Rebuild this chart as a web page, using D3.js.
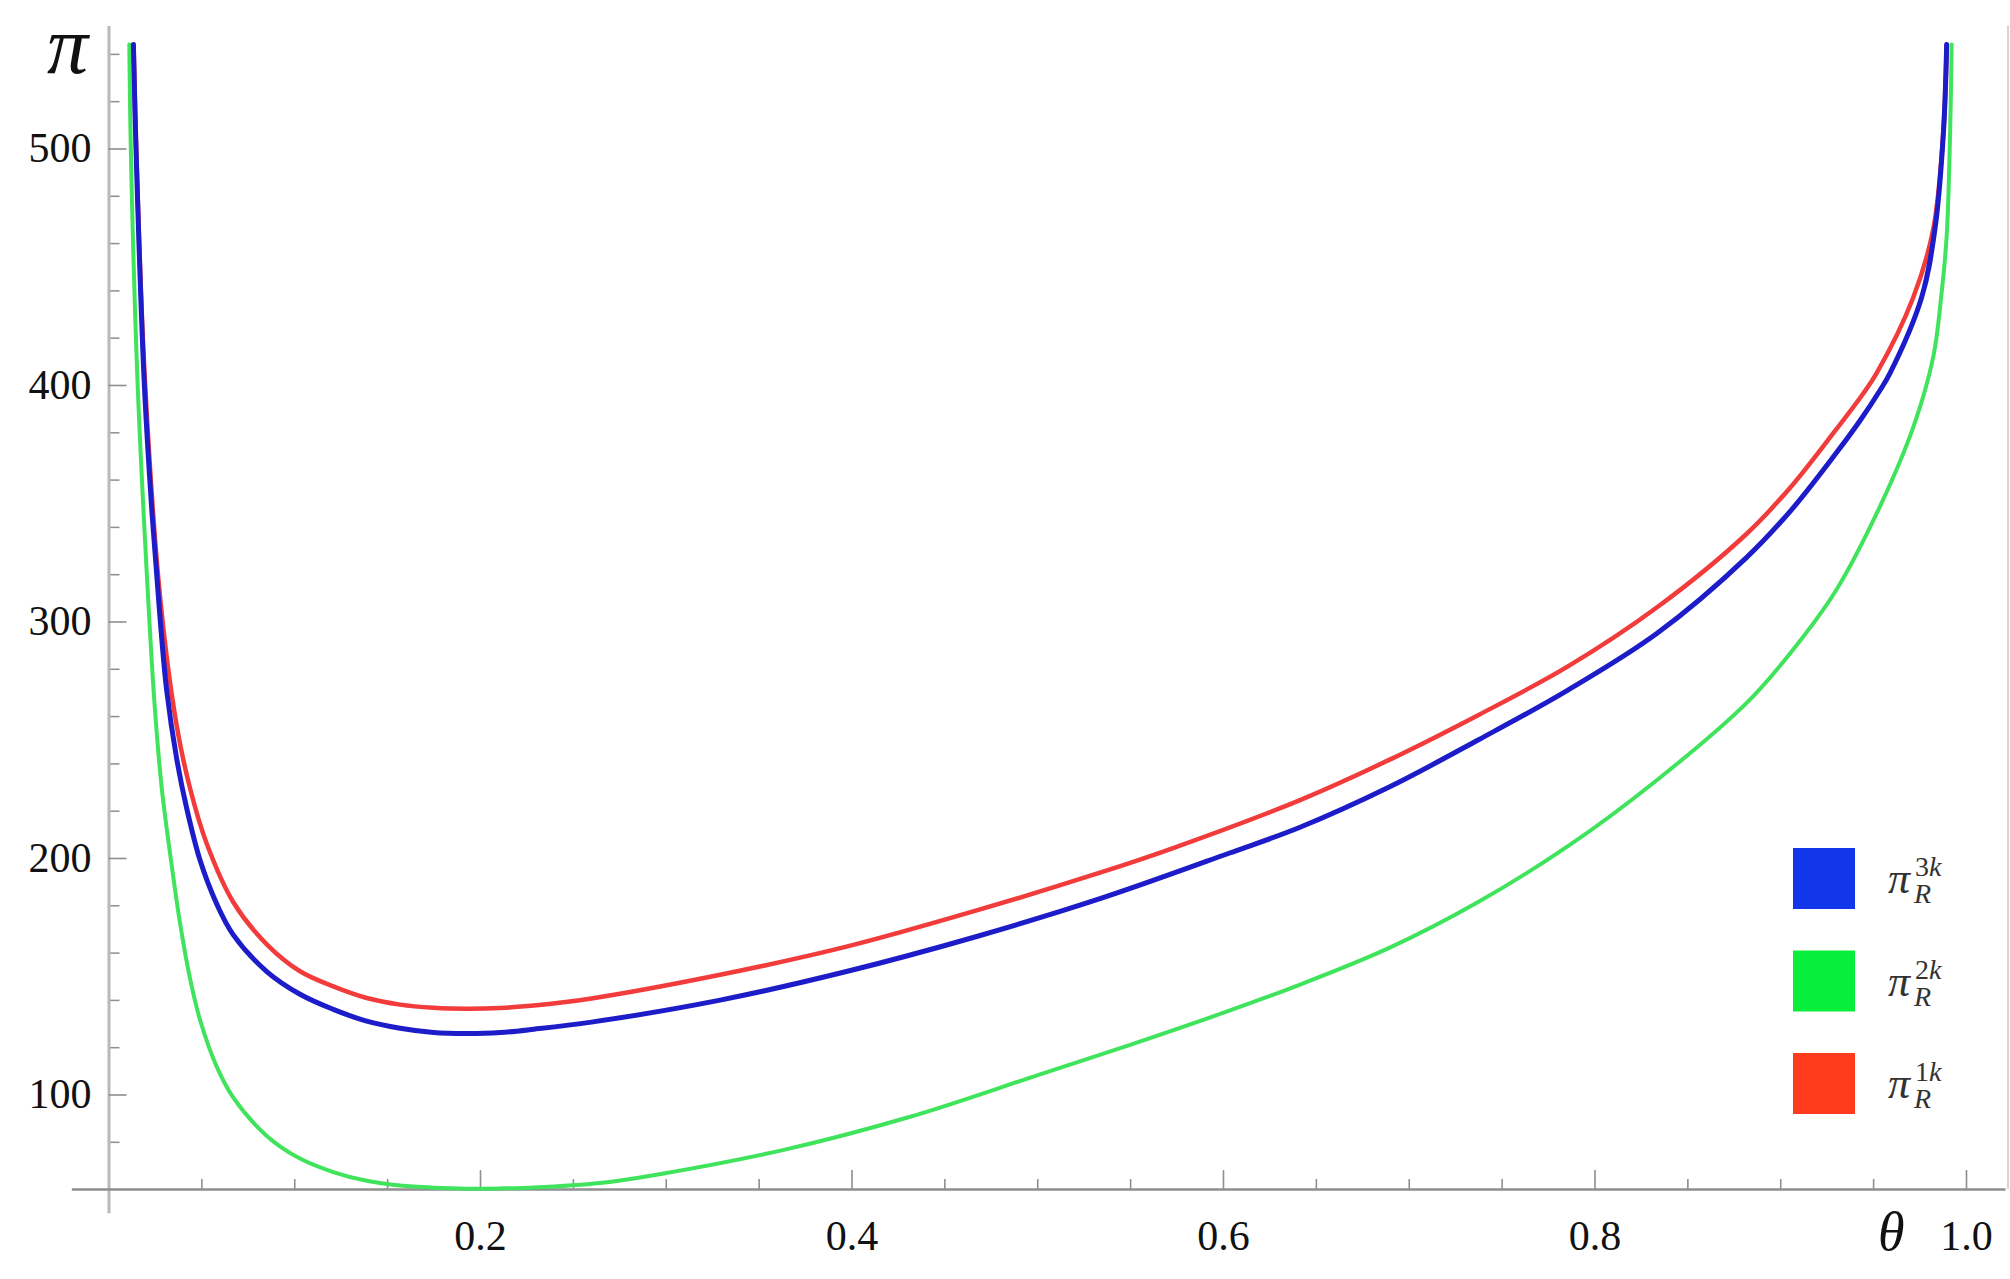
<!DOCTYPE html>
<html>
<head>
<meta charset="utf-8">
<script src="https://cdn.jsdelivr.net/npm/d3@7"></script>
<style>
  html, body { margin: 0; padding: 0; background: #fff; }
  svg { display: block; font-family: "Liberation Serif", "DejaVu Serif", serif; }
</style>
</head>
<body>
<svg id="chart" width="2010" height="1279"></svg>
<script>
'use strict'

// pi_R^3k (blue) -- theta / profit pairs
const theta3k = [0.0134, 0.0148, 0.0193, 0.0235, 0.0277, 0.0313, 0.0367, 0.0421, 0.0493, 0.0583, 0.0672, 0.0852, 0.1031, 0.121, 0.139, 0.157, 0.175, 0.193, 0.211, 0.229, 0.26, 0.3286, 0.3973, 0.466, 0.5346, 0.6032, 0.6415, 0.6895, 0.7376, 0.7857, 0.8337, 0.8818, 0.9058, 0.9299, 0.943, 0.9539, 0.9591, 0.9761, 0.9833, 0.9878, 0.9896]
const pi3k    = [544, 500, 400, 345, 302, 271, 242, 221, 199, 180.5, 167.5, 152, 142.4, 136, 131, 128, 126.2, 125.8, 126.2, 127.6, 130.6, 139.8, 152, 166.5, 183, 202, 213, 230, 250, 271, 295, 327, 347, 371, 385, 398, 405, 437, 466, 506, 544]

// pi_R^2k (green)
const theta2k = [0.0112, 0.012, 0.0157, 0.0214, 0.0248, 0.0286, 0.034, 0.0385, 0.0439, 0.0493, 0.0583, 0.0672, 0.0852, 0.1031, 0.121, 0.139, 0.157, 0.175, 0.193, 0.211, 0.229, 0.2646, 0.2943, 0.363, 0.4316, 0.5003, 0.55, 0.6, 0.6415, 0.6895, 0.7376, 0.7857, 0.8337, 0.8818, 0.9058, 0.9299, 0.9539, 0.972, 0.9824, 0.9866, 0.9896, 0.9914, 0.9923]
const pi2k    = [544, 500, 400, 309, 265, 230, 197, 172.5, 149, 131.5, 111.7, 98.7, 82.5, 72.9, 67.2, 63.5, 61.5, 60.6, 60.2, 60.3, 60.7, 62.6, 66, 76.5, 90.6, 108.2, 121, 134.5, 146.5, 162, 181.5, 205, 233, 265.5, 287, 313, 349, 383, 412, 437, 463, 505, 544]

// pi_R^1k (red)
const theta1k = [0.0135, 0.0149, 0.0194, 0.0278, 0.0367, 0.0439, 0.0529, 0.0672, 0.0852, 0.1031, 0.121, 0.139, 0.157, 0.175, 0.193, 0.211, 0.229, 0.26, 0.3286, 0.3973, 0.466, 0.5346, 0.5724, 0.6415, 0.6895, 0.7376, 0.7857, 0.8337, 0.8818, 0.9058, 0.9299, 0.9443, 0.9519, 0.9716, 0.9824, 0.9878, 0.9896]
const pi1k    = [544, 501, 405, 310, 256, 229.5, 206, 181.3, 163.5, 152.1, 145.7, 140.8, 138, 136.7, 136.3, 136.6, 137.6, 140.6, 150.5, 162.5, 177.5, 194, 204, 224.5, 241.5, 260.5, 281, 306, 337, 357, 381, 396, 405, 437, 466, 507, 544]

const yTickLabels = [100, 200, 300, 400, 500]
const xTickLabels = [0.2, 0.4, 0.6, 0.8, 1.0]
const legendKeys = ['3k', '2k', '1k']

const colors = {
	'3k': {line: '#1c1cc8', box: '#1236ea'},
	'2k': {line: '#3fe35c', box: '#08ee3a'},
	'1k': {line: '#f23b3b', box: '#ff3b1e'}
}
const widths = {'3k': 5, '2k': 4, '1k': 4.5}

const svg = d3.select('#chart')

// scales: axis origin at theta = 0, pi = 60
const x = d3.scaleLinear().domain([-0.02, 1.021]).range([71.35, 2005])
const y = d3.scaleLinear().domain([50, 552]).range([1212.75, 25.5])

const axisGrey = '#8e8e8e'

// y axis, minor ticks every 20 (no labels)
const yMinor = d3.range(80, 545, 20).filter(v => v % 100 !== 0)
svg.append('g')
	.attr('transform', 'translate(' + x(0) + ',0)')
	.call(d3.axisLeft(y).tickValues(yMinor).tickSizeInner(-11).tickSizeOuter(0).tickFormat(''))
	.call(g => g.select('.domain').remove())
	.call(g => g.selectAll('line').attr('stroke', axisGrey).attr('stroke-width', 1.5))

const yAxis = svg.append('g')
	.attr('transform', 'translate(' + x(0) + ',0)')
	.call(d3.axisLeft(y).tickValues(yTickLabels).tickSizeInner(-18).tickSizeOuter(0).tickPadding(17))
yAxis.select('.domain').attr('stroke', '#b9b9b9').attr('stroke-width', 3)
yAxis.selectAll('line').attr('stroke', axisGrey).attr('stroke-width', 1.6)
yAxis.selectAll('text')
	.attr('fill', '#111')
	.style('font-family', '"Liberation Serif", serif')
	.style('font-size', '42px')

// x axis, minor ticks every 0.05
const xMinor = d3.range(1, 20).map(i => i * 0.05).filter(v => Math.abs(v * 5 - Math.round(v * 5)) > 1e-6)
svg.append('g')
	.attr('transform', 'translate(0,' + y(60) + ')')
	.call(d3.axisBottom(x).tickValues(xMinor).tickSizeInner(-10).tickSizeOuter(0).tickFormat(''))
	.call(g => g.select('.domain').remove())
	.call(g => g.selectAll('line').attr('stroke', axisGrey).attr('stroke-width', 1.6))

const xAxis = svg.append('g')
	.attr('transform', 'translate(0,' + y(60) + ')')
	.call(d3.axisBottom(x).tickValues(xTickLabels).tickSizeInner(-19).tickSizeOuter(0).tickPadding(31).tickFormat(d3.format('.1f')))
xAxis.select('.domain').attr('stroke', axisGrey).attr('stroke-width', 2.5)
xAxis.selectAll('line').attr('stroke', axisGrey).attr('stroke-width', 1.6)
xAxis.selectAll('text')
	.attr('fill', '#111')
	.style('font-family', '"Liberation Serif", serif')
	.style('font-size', '42px')

// faint frame edge on the right
svg.append('line')
	.attr('x1', 2008).attr('x2', 2008)
	.attr('y1', y(552)).attr('y2', y(60))
	.attr('stroke', '#d4d4d4').attr('stroke-width', 2)

// axis labels
svg.append('text')
	.attr('x', 47).attr('y', 73)
	.style('font-style', 'italic').style('font-size', '82px')
	.attr('fill', '#111')
	.text('π')
svg.append('text')
	.attr('x', 1878).attr('y', 1250)
	.style('font-style', 'italic').style('font-size', '54px')
	.attr('fill', '#111')
	.text('θ')

// curves
const series = [
	{key: '2k', theta: theta2k, vals: pi2k},
	{key: '1k', theta: theta1k, vals: pi1k},
	{key: '3k', theta: theta3k, vals: pi3k}
]
const line = d3.line()
	.x(d => x(d[0]))
	.y(d => y(d[1]))
	.curve(d3.curveCatmullRom.alpha(0.5))

svg.append('g').selectAll('path')
	.data(series)
	.enter().append('path')
		.attr('d', s => line(d3.zip(s.theta, s.vals)))
		.attr('fill', 'none')
		.attr('stroke', s => colors[s.key].line)
		.attr('stroke-width', s => widths[s.key])
		.attr('stroke-linecap', 'round')
		.attr('stroke-linejoin', 'round')

// legend
const legend = svg.append('g').selectAll('g')
	.data(legendKeys)
	.enter().append('g')
		.attr('transform', (d, i) => 'translate(1793,' + (848 + i * 102.5) + ')')

legend.append('rect')
	.attr('width', 62).attr('height', 61)
	.attr('fill', d => colors[d].box)

legend.append('text')
	.attr('x', 95).attr('y', 45)
	.style('font-style', 'italic').style('font-size', '44px')
	.attr('fill', '#333')
	.text('π')

const sup = legend.append('text')
	.attr('x', 122).attr('y', 28)
	.style('font-size', '28px')
	.attr('fill', '#333')
sup.append('tspan').text(d => d.charAt(0))
sup.append('tspan').style('font-style', 'italic').text('k')

legend.append('text')
	.attr('x', 121).attr('y', 55)
	.style('font-style', 'italic').style('font-size', '28px')
	.attr('fill', '#333')
	.text('R')
</script>
</body>
</html>
